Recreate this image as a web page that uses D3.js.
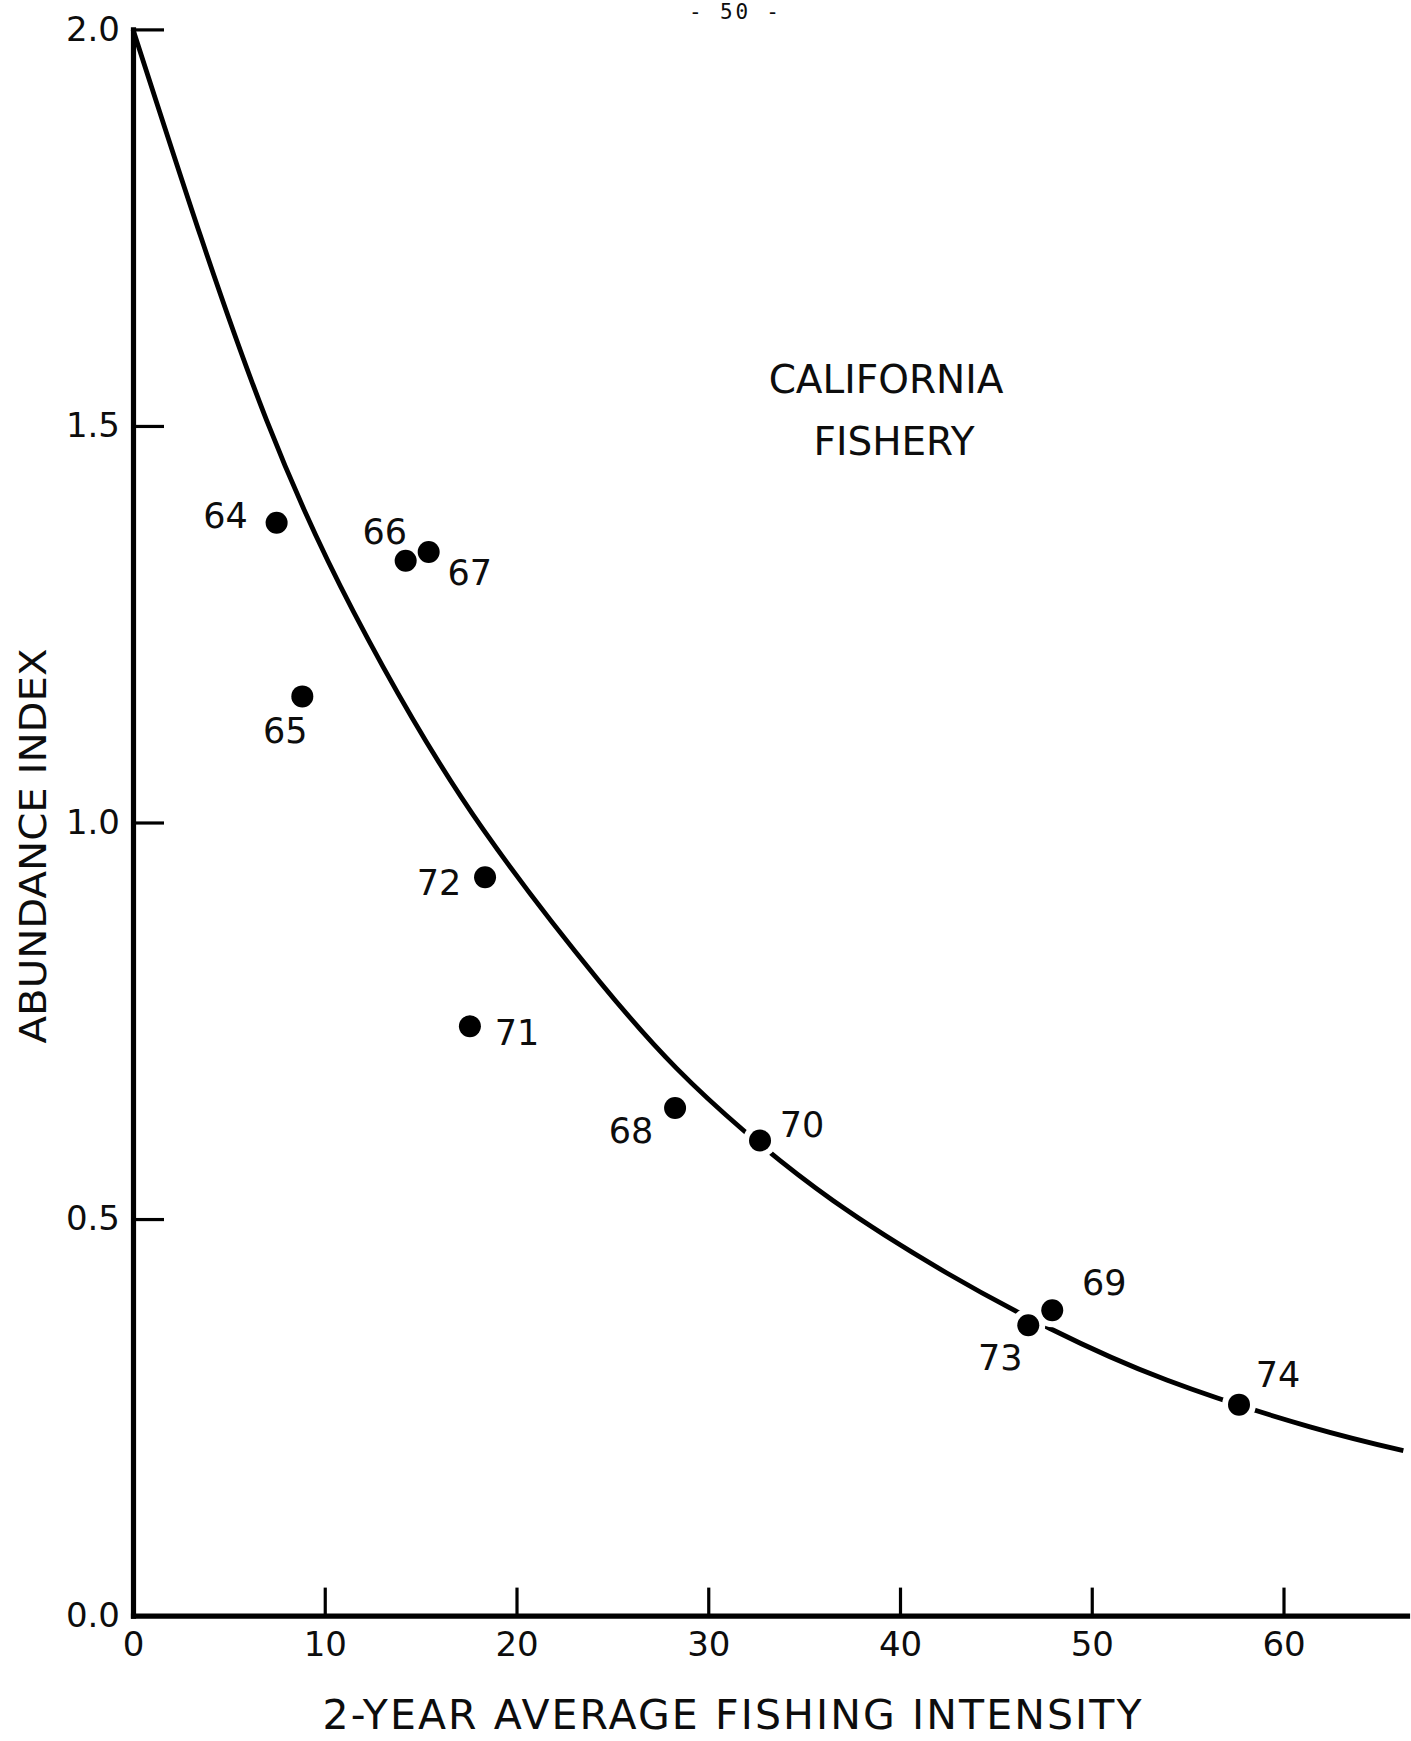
<!DOCTYPE html>
<html>
<head>
<meta charset="utf-8">
<script src="https://cdn.jsdelivr.net/npm/d3@7"></script>
<style>
  html, body { margin: 0; padding: 0; background: #fff; }
  svg { display: block; }
  text { font-family: "DejaVu Sans", sans-serif; fill: #0d0d0d; }
</style>
</head>
<body>
<svg id="chart" width="1411" height="1741"></svg>
<script>
// Season (year) of each observation
const years = ["64", "65", "66", "67", "68", "69", "70", "71", "72", "73", "74"];
// 2-year average fishing intensity
const intensity = [7.49, 8.83, 14.22, 15.42, 28.27, 47.94, 32.70, 17.57, 18.36, 46.69, 57.68];
// Abundance index
const abundance = [1.378, 1.159, 1.330, 1.341, 0.640, 0.385, 0.599, 0.743, 0.931, 0.366, 0.266];

// Fitted abundance curve, sampled along its length
const curveX = [0, 6.97, 13.05, 18.27, 24.35, 28.35, 31.83, 36.52, 42.44, 47.82, 53.91, 61.38, 66.25];
const curveY = [2.0, 1.507, 1.196, 0.991, 0.799, 0.690, 0.612, 0.523, 0.432, 0.362, 0.297, 0.238, 0.208];

const xTicks = [0, 10, 20, 30, 40, 50, 60];
const yTicks = [0, 0.5, 1.0, 1.5, 2.0];

// Label placement around each point: [dx, dy] in pixels from the dot
const labelOffset = {
  "64": [-51, 5], "65": [-17, 47], "66": [-21, -17], "67": [41, 33],
  "68": [-44, 35], "69": [52, -15], "70": [42, -4], "71": [47, 19],
  "72": [-46, 18], "73": [-28, 45], "74": [39, -18]
};

const svg = d3.select("#chart");
svg.append("rect").attr("width", 1411).attr("height", 1741).attr("fill", "#fff");

const x0 = 133, xUnit = 19.175, xMax = 66.44;
const x = d3.scaleLinear().domain([0, xMax]).range([x0, x0 + xUnit * xMax]);
const y = d3.scaleLinear().domain([0, 2]).range([1615.6, 29.4]);

// Page number
svg.append("text")
  .attr("x", 734).attr("y", 19)
  .attr("text-anchor", "middle")
  .attr("textLength", 90).attr("lengthAdjust", "spacing")
  .style("font-family", "'DejaVu Sans Mono', 'Liberation Mono', monospace")
  .style("font-size", "21px")
  .text("- 50 -");

// Fitted curve
const pts = curveX.map((v, i) => [v, curveY[i]]);
svg.append("path")
  .datum(pts)
  .attr("fill", "none")
  .attr("stroke", "#000")
  .attr("stroke-width", 4.8)
  .attr("d", d3.line().x(d => x(d[0])).y(d => y(d[1])).curve(d3.curveNatural));

// Axes
const xAxis = d3.axisBottom(x).tickValues(xTicks).tickFormat(d3.format("d"))
  .tickSize(-28).tickSizeOuter(0).tickPadding(16);
const gx = svg.append("g").attr("transform", `translate(0,${y(0)})`).call(xAxis);

const yAxis = d3.axisLeft(y).tickValues(yTicks).tickFormat(d3.format(".1f"))
  .tickSize(-31).tickSizeOuter(0).tickPadding(13);
const gy = svg.append("g").attr("transform", `translate(${x(0)},0)`).call(yAxis);

[gx, gy].forEach(g => {
  g.select(".domain").attr("stroke", "#000").attr("stroke-width", 5.2).attr("stroke-linecap", "square");
  g.selectAll(".tick line").attr("stroke", "#000").attr("stroke-width", 3.2);
  g.selectAll(".tick text").style("font-size", "34px").attr("fill", "#0d0d0d")
    .style("font-family", "'DejaVu Sans', sans-serif");
});
gx.selectAll(".tick text").attr("dy", "0.72em");

// Points: white halo breaks the curve, then the filled dot
const data = years.map((yr, i) => ({ yr, fi: intensity[i], ab: abundance[i] }));
svg.append("g").selectAll("circle").data(data).join("circle")
  .attr("cx", d => x(d.fi)).attr("cy", d => y(d.ab)).attr("r", 17).attr("fill", "#fff");
svg.append("g").selectAll("circle").data(data).join("circle")
  .attr("cx", d => x(d.fi)).attr("cy", d => y(d.ab)).attr("r", 11).attr("fill", "#000");

svg.append("g").selectAll("text").data(data).join("text")
  .attr("x", d => x(d.fi) + labelOffset[d.yr][0])
  .attr("y", d => y(d.ab) + labelOffset[d.yr][1])
  .attr("text-anchor", "middle")
  .style("font-size", "35px")
  .text(d => d.yr);

// Fishery name
const title = svg.append("text").attr("text-anchor", "middle").style("font-size", "39px");
title.append("tspan").attr("x", 886).attr("y", 393).text("CALIFORNIA");
title.append("tspan").attr("x", 894).attr("y", 455).text("FISHERY");

// Axis titles
svg.append("text")
  .attr("x", 732).attr("y", 1729)
  .attr("text-anchor", "middle")
  .attr("textLength", 819).attr("lengthAdjust", "spacing")
  .style("font-size", "41px")
  .text("2-YEAR AVERAGE FISHING INTENSITY");

svg.append("text")
  .attr("transform", "translate(46,846) rotate(-90)")
  .attr("text-anchor", "middle")
  .attr("textLength", 395).attr("lengthAdjust", "spacingAndGlyphs")
  .style("font-size", "38px")
  .text("ABUNDANCE INDEX");
</script>
</body>
</html>
